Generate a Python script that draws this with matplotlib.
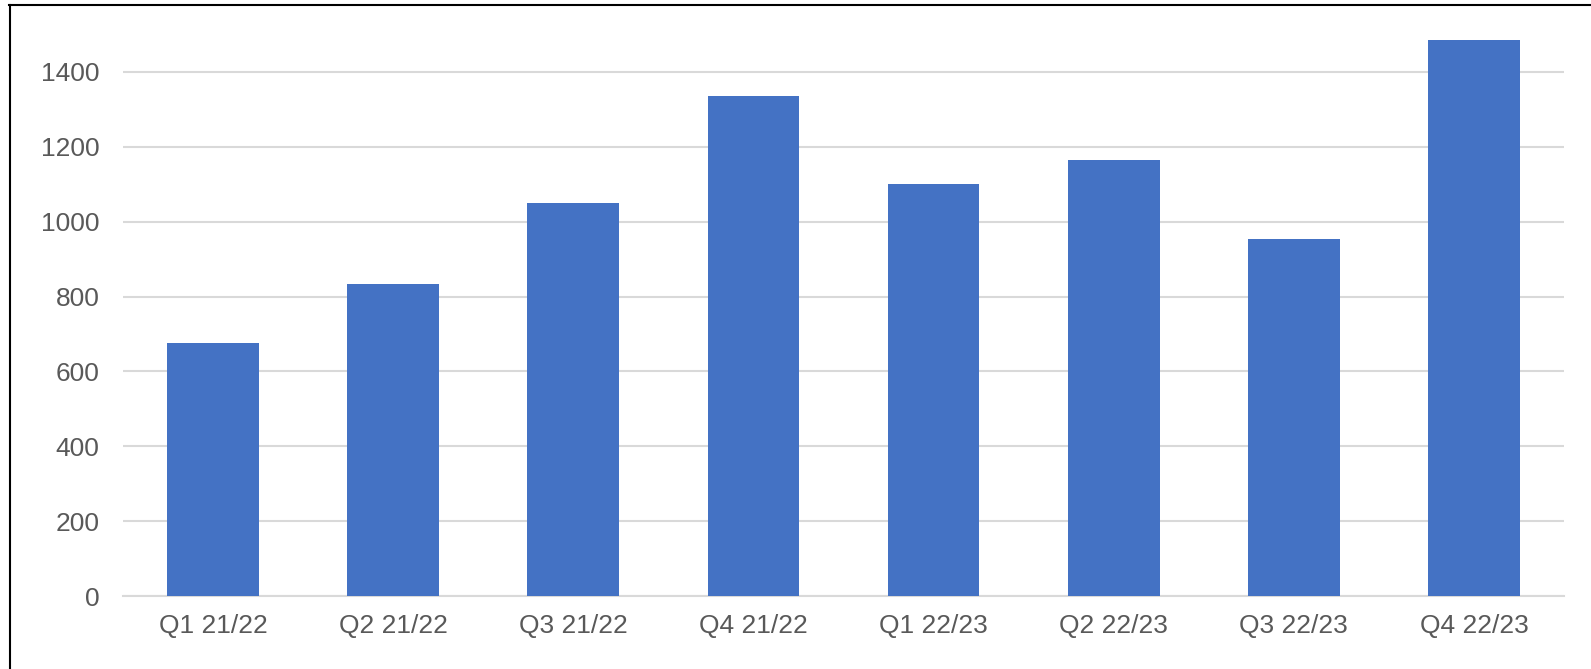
#!/usr/bin/env python3
# -*- coding: utf-8 -*-

import matplotlib
matplotlib.use('Agg')
import matplotlib.pyplot as plt
from matplotlib.lines import Line2D

# quarterly values
quarters = ['Q1 21/22', 'Q2 21/22', 'Q3 21/22', 'Q4 21/22',
            'Q1 22/23', 'Q2 22/23', 'Q3 22/23', 'Q4 22/23']
values = [676, 833, 1050, 1336, 1101, 1165, 954, 1485]
yticks = [0, 200, 400, 600, 800, 1000, 1200, 1400]

BAR_COLOR = '#4472C4'
GRID_COLOR = '#D9D9D9'
TEXT_COLOR = '#595959'


def main():
    plt.rcParams['font.family'] = ['Liberation Sans', 'DejaVu Sans']

    fig = plt.figure(figsize=(15.91, 6.69), dpi=100)
    # plot area runs a bit past the top of the picture (cropped screenshot)
    ax = fig.add_axes([123 / 1591, 73 / 669, 1441 / 1591, 599 / 669])

    pos = list(range(len(quarters)))
    ax.bar(pos, values, width=0.51, color=BAR_COLOR, zorder=3)

    ax.set_xlim(-0.5, len(quarters) - 0.5)
    ax.set_ylim(0, 1600)
    ax.set_yticks(yticks)
    ax.set_xticks(pos)
    ax.set_xticklabels(quarters)

    ax.grid(axis='y', color=GRID_COLOR, linewidth=1.5, zorder=0)
    ax.set_axisbelow(True)
    for side in ['top', 'right', 'left']:
        ax.spines[side].set_visible(False)
    ax.spines['bottom'].set_color(GRID_COLOR)
    ax.spines['bottom'].set_linewidth(1.5)

    ax.tick_params(axis='both', length=0, labelsize=19, labelcolor=TEXT_COLOR)
    ax.tick_params(axis='x', pad=13)
    ax.tick_params(axis='y', pad=17)

    # black frame of the screenshot: left and top edges only
    fig.add_artist(Line2D([10 / 1591, 10 / 1591], [0, 1 - 4.5 / 669],
                          transform=fig.transFigure, color='black', linewidth=1.5))
    fig.add_artist(Line2D([9 / 1591, 1], [1 - 4.5 / 669, 1 - 4.5 / 669],
                          transform=fig.transFigure, color='black', linewidth=1.5))

    fig.savefig('out.png', dpi=100)
    plt.close(fig)


if __name__ == '__main__':
    main()
